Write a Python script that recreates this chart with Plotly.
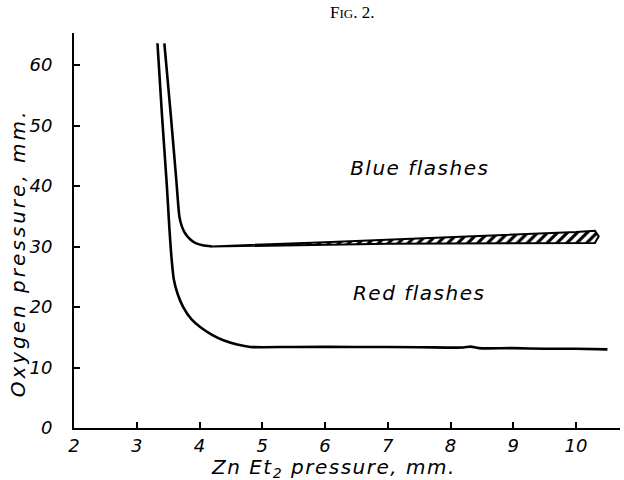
import plotly.graph_objects as go

# Data
x_ticks = [2, 3, 4, 5, 6, 7, 8, 9, 10]
y_ticks = [0, 10, 20, 30, 40, 50, 60]

# Lower boundary (red flashes limit)
red_x = [3.33, 3.40, 3.48, 3.52, 3.555, 3.59, 3.65, 3.74, 3.87, 4.01, 4.20, 4.38, 4.60, 4.81,
         5.5, 6.5, 7.5, 8.2, 8.32, 8.45, 9.0, 9.5, 10.0, 10.5]
red_y = [63.6, 52.0, 40.0, 33.0, 28.0, 24.6, 22.2, 20.0, 18.0, 16.7, 15.4, 14.5, 13.8, 13.4,
         13.4, 13.4, 13.35, 13.3, 13.45, 13.2, 13.2, 13.1, 13.1, 13.0]

# Upper boundary (blue flashes limit)
blue_x = [3.44, 3.54, 3.63, 3.68, 3.72, 3.77, 3.85, 3.93, 4.05, 4.20]
blue_y = [63.6, 52.0, 41.0, 34.9, 33.3, 32.2, 31.2, 30.6, 30.2, 30.0]

# Hatched transition band
band_x = [4.20, 5.0, 6.0, 7.0, 8.0, 9.0, 10.0, 10.3]
band_low = [30.0, 30.15, 30.3, 30.45, 30.5, 30.55, 30.6, 30.6]
band_high = [30.0, 30.35, 30.7, 31.05, 31.5, 31.95, 32.4, 32.6]
band_cap = (10.36, 31.7)

label_text = ["Blue flashes", "Red flashes"]
label_x = [7.51, 7.50]
label_y = [42.6, 22.0]

FONT = "DejaVu Sans"


def spaced(s, px):
    return f"<span style='letter-spacing:{px}px'>{s}</span>"


fig = go.Figure()

poly_x = band_x + [band_cap[0]] + band_x[::-1]
poly_y = band_low + [band_cap[1]] + band_high[::-1]
fig.add_trace(go.Scatter(
    x=poly_x, y=poly_y, mode="lines", fill="toself",
    line=dict(color="black", width=2),
    fillpattern=dict(shape="/", fgcolor="black", bgcolor="white",
                     size=7, solidity=0.45, fillmode="replace"),
    hoverinfo="skip", showlegend=False))

fig.add_trace(go.Scatter(
    x=red_x, y=red_y, mode="lines",
    line=dict(color="black", width=2.6, shape="spline", smoothing=0.7),
    showlegend=False))
fig.add_trace(go.Scatter(
    x=blue_x, y=blue_y, mode="lines",
    line=dict(color="black", width=2.6, shape="spline", smoothing=0.6),
    showlegend=False))

fig.add_trace(go.Scatter(
    x=label_x, y=label_y, mode="text",
    text=[spaced(t, 1.5) for t in label_text],
    textfont=dict(family=FONT, size=20, color="black", style="italic"),
    showlegend=False))

axis_common = dict(showgrid=False, zeroline=False, showline=True,
                   linecolor="black", linewidth=2, ticks="inside",
                   ticklen=6, tickwidth=1.5, tickcolor="black",
                   tickfont=dict(family=FONT, size=18, color="black", style="italic"))

fig.update_layout(
    width=624, height=480,
    margin=dict(l=74, r=4, t=33, b=52),
    paper_bgcolor="white", plot_bgcolor="white",
    xaxis=dict(range=[2, 10.7], tickvals=x_ticks, ticklabelstandoff=0, **axis_common),
    yaxis=dict(range=[0, 65.3], tickvals=y_ticks, ticklabelstandoff=16, **axis_common),
    annotations=[
        dict(text="F<span style='font-size:13px'>IG</span>. 2.", x=0.509, y=1.053,
             xanchor="center", yanchor="middle",
             xref="paper", yref="paper", showarrow=False,
             font=dict(family="Liberation Serif", size=17, color="black")),
        dict(text=spaced("Zn Et<sub>2</sub> pressure, mm.", 1.5), x=0.476, y=-0.101,
             xanchor="center", yanchor="middle",
             xref="paper", yref="paper", showarrow=False,
             font=dict(family=FONT, size=20, color="black", style="italic")),
        dict(text=spaced("Oxygen pressure, mm.", 3), x=-0.102, y=0.443, textangle=-90,
             xanchor="center", yanchor="middle",
             xref="paper", yref="paper", showarrow=False,
             font=dict(family=FONT, size=20, color="black", style="italic")),
    ],
)

fig.write_html("out.html")
